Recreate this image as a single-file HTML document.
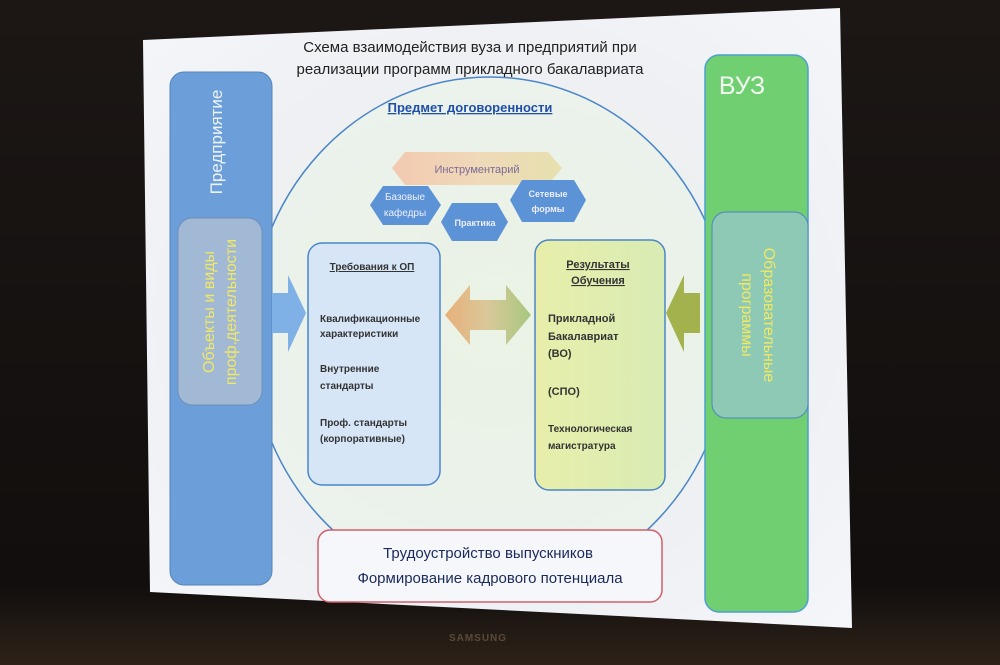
<!DOCTYPE html>
<html><head><meta charset="utf-8"><style>html,body{margin:0;padding:0;background:#141110;}svg{display:block}</style></head>
<body>
<svg width="1000" height="665" viewBox="0 0 1000 665" xmlns="http://www.w3.org/2000/svg" font-family="Liberation Sans, DejaVu Sans, sans-serif">
<defs>
<linearGradient id="bg" x1="0" y1="0" x2="0" y2="1"><stop offset="0" stop-color="#1c1715"/><stop offset="0.88" stop-color="#110e0d"/><stop offset="1" stop-color="#2e2219"/></linearGradient>
<radialGradient id="scr" cx="0.5" cy="0.5" r="0.7"><stop offset="0" stop-color="#eaf2e4"/><stop offset="0.6" stop-color="#eef0f4"/><stop offset="1" stop-color="#f4f6fa"/></radialGradient>
<linearGradient id="hexI" x1="0" x2="1"><stop offset="0" stop-color="#f3c9b0"/><stop offset="0.5" stop-color="#efd9b8"/><stop offset="1" stop-color="#e7e0b0"/></linearGradient>
<linearGradient id="dbl" x1="0" x2="1"><stop offset="0" stop-color="#e8b07a"/><stop offset="0.5" stop-color="#d9c89a"/><stop offset="1" stop-color="#a6c77e"/></linearGradient>
<linearGradient id="res" x1="0" x2="1"><stop offset="0" stop-color="#e8eeaa"/><stop offset="1" stop-color="#d8ecb4"/></linearGradient>
</defs>
<rect width="1000" height="665" fill="url(#bg)"/>
<polygon points="143,40 840,8 852,628 150,592" fill="url(#scr)"/>
<ellipse cx="490" cy="335" rx="240" ry="258" fill="#e9f3e6" fill-opacity="0.5" stroke="#4a86c8" stroke-width="1.5"/>
<rect x="170" y="72" width="102" height="513" rx="14" fill="#6c9fd9" stroke="#5585bb"/>
<text transform="translate(222,142) rotate(-90)" text-anchor="middle" fill="#eef3fa" font-size="17">Предприятие</text>
<rect x="178" y="218" width="84" height="187" rx="14" fill="#a2b9d6" stroke="#6f8fb8"/>
<text transform="translate(214,312) rotate(-90)" text-anchor="middle" fill="#f2e862" font-size="16">Объекты и виды</text>
<text transform="translate(236,312) rotate(-90)" text-anchor="middle" fill="#f2e862" font-size="16">проф.деятельности</text>
<rect x="705" y="55" width="103" height="557" rx="14" fill="#6fcf71" stroke="#4d9fd0" stroke-width="1.5"/>
<text x="742" y="94" text-anchor="middle" fill="#f3fbf2" font-size="25">ВУЗ</text>
<rect x="712" y="212" width="96" height="206" rx="14" fill="#8dc9b4" stroke="#4d86c0"/>
<text transform="translate(764,315) rotate(90)" text-anchor="middle" fill="#f2e862" font-size="16">Образовательные</text>
<text transform="translate(742,315) rotate(90)" text-anchor="middle" fill="#f2e862" font-size="16">программы</text>
<text x="470" y="52" text-anchor="middle" fill="#222" font-size="15">Схема взаимодействия вуза и предприятий при</text>
<text x="470" y="74" text-anchor="middle" fill="#222" font-size="15">реализации программ прикладного бакалавриата</text>
<text x="470" y="112" text-anchor="middle" fill="#1f4fa8" font-size="13" font-weight="bold" text-decoration="underline">Предмет договоренности</text>
<polygon points="392,168 405,152 548,152 562,168 548,185 405,185" fill="url(#hexI)"/>
<text x="477" y="173" text-anchor="middle" fill="#7a6a9a" font-size="11">Инструментарий</text>
<polygon points="370,205 383,186 428,186 441,205 428,225 383,225" fill="#5b93d6"/>
<text x="405" y="200" text-anchor="middle" fill="#eef" font-size="10">Базовые</text>
<text x="405" y="216" text-anchor="middle" fill="#eef" font-size="10">кафедры</text>
<polygon points="510,200 522,180 574,180 586,200 574,222 522,222" fill="#5b93d6"/>
<text x="548" y="197" text-anchor="middle" fill="#eef" font-size="9" font-weight="bold">Сетевые</text>
<text x="548" y="212" text-anchor="middle" fill="#eef" font-size="9" font-weight="bold">формы</text>
<polygon points="441,222 452,203 497,203 508,222 497,241 452,241" fill="#5b93d6"/>
<text x="475" y="226" text-anchor="middle" fill="#eef" font-size="9" font-weight="bold">Практика</text>
<rect x="308" y="243" width="132" height="242" rx="14" fill="#d6e6f7" stroke="#4a86c8" stroke-width="1.5"/>
<text x="372" y="270" text-anchor="middle" fill="#333" font-size="10" font-weight="bold" text-decoration="underline">Требования к ОП</text>
<g fill="#333" font-size="10" font-weight="bold">
<text x="320" y="322">Квалификационные</text><text x="320" y="337">характеристики</text>
<text x="320" y="372">Внутренние</text><text x="320" y="389">стандарты</text>
<text x="320" y="426">Проф. стандарты</text><text x="320" y="442">(корпоративные)</text>
</g>
<rect x="535" y="240" width="130" height="250" rx="14" fill="url(#res)" stroke="#4a86c8" stroke-width="1.5"/>
<g fill="#333" font-size="11" font-weight="bold">
<text x="598" y="268" text-anchor="middle" text-decoration="underline">Результаты</text>
<text x="598" y="284" text-anchor="middle" text-decoration="underline">Обучения</text>
<text x="548" y="322">Прикладной</text><text x="548" y="340">Бакалавриат</text><text x="548" y="357">(ВО)</text>
<text x="548" y="395">(СПО)</text>
<text x="548" y="432" font-size="10">Технологическая</text><text x="548" y="449" font-size="10">магистратура</text>
</g>
<polygon points="445,315 470,285 470,300 506,300 506,285 531,315 506,345 506,330 470,330 470,345" fill="url(#dbl)"/>
<polygon points="272,293 288,293 288,275 306,313 288,352 288,333 272,333" fill="#7fb1e6"/>
<polygon points="700,293 684,293 684,275 666,313 684,352 684,333 700,333" fill="#a4b24e"/>
<rect x="318" y="530" width="344" height="72" rx="12" fill="#f6f7fb" stroke="#d0606a" stroke-width="1.5"/>
<text x="488" y="558" text-anchor="middle" fill="#1a2a5a" font-size="15">Трудоустройство выпускников</text>
<text x="490" y="583" text-anchor="middle" fill="#1a2a5a" font-size="15">Формирование кадрового потенциала</text>
<text x="478" y="641" text-anchor="middle" fill="#5a4a3a" font-size="10" font-weight="bold" letter-spacing="1">SAMSUNG</text>
</svg>
</body></html>
